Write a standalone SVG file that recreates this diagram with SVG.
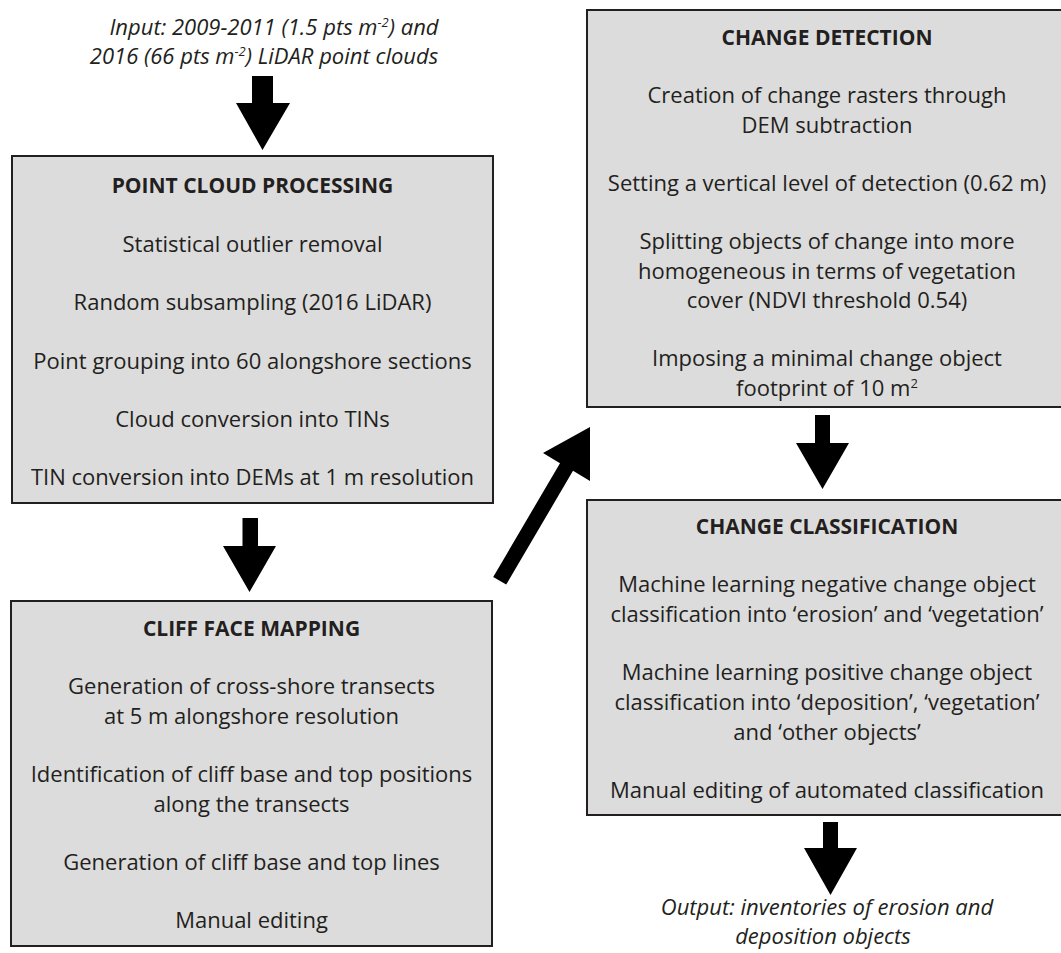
<svg xmlns="http://www.w3.org/2000/svg" width="1061" height="953" viewBox="0 0 1061 953">
<style>
.box{fill:#dcdcdc;stroke:#231f20;stroke-width:2}
text{font-family:"Open Sans","Noto Sans","Liberation Sans",sans-serif;fill:#231f20;font-size:22px;text-anchor:middle}
.t{font-weight:bold;font-size:21px}
.i{font-style:italic}
.arr{fill:#000}
.sup{font-size:13px}
</style>
<rect width="1061" height="953" fill="#ffffff"/>
<g id="input">
<text class="i" x="274" y="35">Input: 2009-2011 (1.5 pts m<tspan class="sup" dy="-8">-2</tspan><tspan dy="8">) and</tspan></text>
<text class="i" x="264" y="64">2016 (66 pts m<tspan class="sup" dy="-8">-2</tspan><tspan dy="8">) LiDAR point clouds</tspan></text>
</g>
<g id="point-cloud-processing">
<rect class="box" x="12" y="156" width="481" height="347"/>
<text class="t" x="252.5" y="193">POINT CLOUD PROCESSING</text>
<text x="252.5" y="252">Statistical outlier removal</text>
<text x="252.5" y="310">Random subsampling (2016 LiDAR)</text>
<text x="252.5" y="368.5">Point grouping into 60 alongshore sections</text>
<text x="252.5" y="427">Cloud conversion into TINs</text>
<text x="252.5" y="485">TIN conversion into DEMs at 1 m resolution</text>
</g>
<g id="cliff-face-mapping">
<rect class="box" x="11" y="601" width="481" height="345"/>
<text class="t" x="251.5" y="636">CLIFF FACE MAPPING</text>
<text x="251.5" y="694">Generation of cross-shore transects</text>
<text x="251.5" y="724">at 5 m alongshore resolution</text>
<text x="251.5" y="782">Identification of cliff base and top positions</text>
<text x="251.5" y="812">along the transects</text>
<text x="251.5" y="870">Generation of cliff base and top lines</text>
<text x="251.5" y="928">Manual editing</text>
</g>
<g id="change-detection">
<rect class="box" x="587" y="10" width="480" height="397"/>
<text class="t" x="827" y="45">CHANGE DETECTION</text>
<text x="827" y="103">Creation of change rasters through</text>
<text x="827" y="133">DEM subtraction</text>
<text x="827" y="191">Setting a vertical level of detection (0.62 m)</text>
<text x="827" y="249">Splitting objects of change into more</text>
<text x="827" y="279">homogeneous in terms of vegetation</text>
<text x="827" y="308">cover (NDVI threshold 0.54)</text>
<text x="827" y="366">Imposing a minimal change object</text>
<text x="827" y="396">footprint of 10 m<tspan class="sup" dy="-8">2</tspan></text>
</g>
<g id="change-classification">
<rect class="box" x="587" y="500" width="480" height="315"/>
<text class="t" x="827" y="534">CHANGE CLASSIFICATION</text>
<text x="827" y="592">Machine learning negative change object</text>
<text x="827" y="622">classification into ‘erosion’ and ‘vegetation’</text>
<text x="827" y="680">Machine learning positive change object</text>
<text x="827" y="710">classification into ‘deposition’, ‘vegetation’</text>
<text x="827" y="740">and ‘other objects’</text>
<text x="827" y="798">Manual editing of automated classification</text>
</g>
<g id="output">
<text class="i" x="827" y="915">Output: inventories of erosion and</text>
<text class="i" x="823" y="944">deposition objects</text>
</g>
<g id="connectors">
<polygon class="arr" points="252,76 273,76 273,103 290,103 262.5,150 236,103 252,103"/>
<polygon class="arr" points="242.5,518 258,518 258,546 276,546 249.5,592 223,546 242.5,546"/>
<polygon class="arr" points="493.2,577 560,463.2 543,453 590,427 590,481 573,470.8 506.2,584.6"/>
<polygon class="arr" points="815,415 830,415 830,443 849,443 822.5,489 796,443 815,443"/>
<polygon class="arr" points="823,822 838,822 838,848 857,848 830.5,895 804,848 823,848"/>
</g>
</svg>
